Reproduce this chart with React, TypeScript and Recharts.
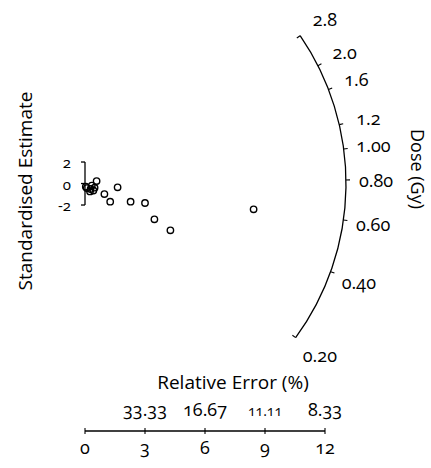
import React from "react";
import * as Recharts from "recharts";
import { ScatterChart, Scatter, XAxis, YAxis, Customized } from "recharts";

// ---- data ----
const precision = [0.58, 1.63, 0.97, 1.26, 2.28, 3.0, 3.47, 4.27, 8.43, 0.09, 0.28, 0.42, 0.48, 0.25, 0.04, 0.34];
const standardisedEstimate = [0.23, -0.35, -0.98, -1.69, -1.69, -1.81, -3.33, -4.35, -2.4, -0.42, -0.51, -0.65, -0.39, -0.74, -0.3, -0.19];

const precisionTicks = [0, 3, 6, 9, 12];
const precisionTickLabels = ["0", "3", "6", "9", "12"];
const relativeErrorLabels = ["", "33.33", "16.67", "11.11", "8.33"];

const zTicks = [2, 0, -2];
const zTickLabels = ["2", "0", "-2"];

const doseTicks = [0.2, 0.4, 0.6, 0.8, 1.0, 1.2, 1.6, 2.0, 2.8];
const doseTickLabels = ["0.20", "0.40", "0.60", "0.80", "1.00", "1.2", "1.6", "2.0", "2.8"];
const referenceDose = 0.78;

const data = precision.map((p, i) => ({ p, z: standardisedEstimate[i] }));

// ---- layout / style ----
const W = 431;
const H = 468;
const MARGIN = { top: 20, right: 106, bottom: 0, left: 85 };
const X_AXIS_H = 37;
const X_DOMAIN: [number, number] = [0, 12];
const Y_DOMAIN: [number, number] = [-23.02, 15.21];
const ARC_R = 261;
const LABEL_R = 291;
const FONT = "'Open Sans', 'Noto Sans', sans-serif";
const NUM_STYLE: React.CSSProperties = { fontVariantNumeric: "oldstyle-nums" };
const TICK_FS = 18;
const TITLE_FS = 19;
const Z_FS = 15;

const R: any = Recharts;

function usePlotAreaSafe() {
  const hook = R.usePlotArea;
  const area = hook ? hook() : undefined;
  if (area && area.width) return area;
  return {
    x: MARGIN.left,
    y: MARGIN.top,
    width: W - MARGIN.left - MARGIN.right,
    height: H - MARGIN.top - MARGIN.bottom - X_AXIS_H,
  };
}

function RadialLayer() {
  const a = usePlotAreaSafe();
  const xs = (v: number) => a.x + ((v - X_DOMAIN[0]) / (X_DOMAIN[1] - X_DOMAIN[0])) * a.width;
  const ys = (v: number) => a.y + ((Y_DOMAIN[1] - v) / (Y_DOMAIN[1] - Y_DOMAIN[0])) * a.height;
  const cx = xs(0);
  const cy = ys(0);
  const kx = xs(1) - xs(0);
  const ky = ys(0) - ys(1);
  const ang = (d: number) => Math.atan((ky / kx) * (Math.log(d) - Math.log(referenceDose)));
  const pt = (t: number, r: number) => [cx + r * Math.cos(t), cy - r * Math.sin(t)];
  const tMin = ang(doseTicks[0]);
  const tMax = ang(doseTicks[doseTicks.length - 1]);
  const [x1, y1] = pt(tMin, ARC_R);
  const [x2, y2] = pt(tMax, ARC_R);
  const last = doseTicks.length - 1;
  return (
    <g>
      <path d={`M${x1},${y1} A${ARC_R},${ARC_R} 0 0 0 ${x2},${y2}`} fill="none" stroke="#000" strokeWidth={1.3} />
      {doseTicks.map((d, i) => {
        const t = ang(d);
        const end = i === 0 || i === last;
        const [ax, ay] = pt(t, ARC_R);
        const [bx, by] = pt(t, end ? ARC_R - 4 : ARC_R + 4);
        const [lx, ly] = pt(t, LABEL_R);
        return (
          <g key={d}>
            <line x1={ax} y1={ay} x2={bx} y2={by} stroke="#000" strokeWidth={1.1} />
            <text x={lx} y={ly} textAnchor="middle" dominantBaseline="central" fontSize={TICK_FS} fontFamily={FONT} fill="#000" style={NUM_STYLE}>
              {doseTickLabels[i]}
            </text>
          </g>
        );
      })}
      {/* standardised estimate bracket */}
      <line x1={cx} y1={ys(zTicks[0])} x2={cx} y2={ys(zTicks[zTicks.length - 1])} stroke="#000" strokeWidth={1.3} />
      {zTicks.map((z, i) => (
        <g key={z}>
          <line x1={cx - 4} y1={ys(z)} x2={cx} y2={ys(z)} stroke="#000" strokeWidth={1.3} />
          <text x={cx - 14} y={ys(z)} textAnchor="end" dominantBaseline="central" fontSize={Z_FS} fontFamily={FONT} fill="#000" style={NUM_STYLE}>
            {zTickLabels[i]}
          </text>
        </g>
      ))}
      <text x={25} y={191} transform="rotate(-90 25 191)" textAnchor="middle" dominantBaseline="central" fontSize={TITLE_FS} fontFamily={FONT} fill="#000">
        Standardised Estimate
      </text>
      <text x={418} y={169} transform="rotate(90 418 169)" textAnchor="middle" dominantBaseline="central" fontSize={18} fontFamily={FONT} fill="#000">
        Dose (Gy)
      </text>
      <text x={233} y={389} textAnchor="middle" fontSize={TITLE_FS} fontFamily={FONT} fill="#000">
        Relative Error (%)
      </text>
    </g>
  );
}

const relErrSize: Record<number, number> = { 9: 14 };

function PrecisionTick(props: any) {
  const { x, y, payload } = props;
  const i = precisionTicks.indexOf(payload.value);
  return (
    <g>
      <line x1={x} y1={y - 3} x2={x} y2={y + 3} stroke="#000" strokeWidth={1.1} />
      <text x={x} y={y + 23} textAnchor="middle" fontSize={TICK_FS} fontFamily={FONT} fill="#000" style={NUM_STYLE}>
        {precisionTickLabels[i]}
      </text>
      {relativeErrorLabels[i] ? (
        <text x={x} y={y - 15} textAnchor="middle" fontSize={relErrSize[payload.value] || TICK_FS} fontFamily={FONT} fill="#000" style={NUM_STYLE}>
          {relativeErrorLabels[i]}
        </text>
      ) : null}
    </g>
  );
}

const HollowCircle = (props: any) => (
  <circle cx={props.cx} cy={props.cy} r={3.2} fill="none" stroke="#000" strokeWidth={1.4} />
);

export default function App() {
  return (
    <div style={{ position: "absolute", left: 0, top: 0, width: W, height: H, background: "#fff" }}>
      <ScatterChart width={W} height={H} margin={MARGIN}>
        <XAxis
          type="number"
          dataKey="p"
          domain={X_DOMAIN}
          ticks={precisionTicks}
          height={X_AXIS_H}
          tickSize={0}
          tickMargin={0}
          tickLine={false}
          axisLine={{ stroke: "#000", strokeWidth: 1.3 }}
          tick={<PrecisionTick />}
          interval={0}
        />
        <YAxis type="number" dataKey="z" domain={Y_DOMAIN} hide />
        <Scatter data={data} shape={HollowCircle} isAnimationActive={false} />
        <Customized component={RadialLayer} />
      </ScatterChart>
    </div>
  );
}
